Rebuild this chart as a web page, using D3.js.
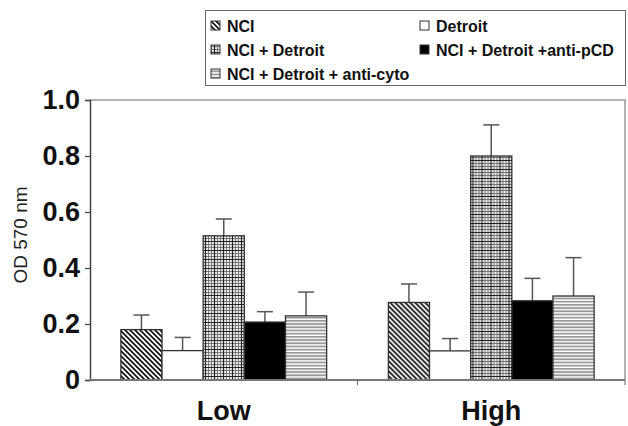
<!DOCTYPE html>
<html lang="en">
<head>
<meta charset="UTF-8">
<title>OD 570 nm</title>
<script src="https://d3js.org/d3.v7.min.js"></script>
<style>
  body { margin: 0; background: #fff; }
  svg { display: block; font-family: "Liberation Sans", Arial, sans-serif; }
</style>
</head>
<body>
<svg id="chart" width="628" height="426"></svg>
<script>
const groups = ["Low", "High"];
const series = ["NCI", "Detroit", "NCI + Detroit", "NCI + Detroit +anti-pCD", "NCI + Detroit + anti-cyto"];
const lowMeans = [0.18, 0.105, 0.515, 0.207, 0.229];
const lowErr = [0.052, 0.047, 0.06, 0.037, 0.085];
const highMeans = [0.277, 0.104, 0.80, 0.283, 0.30];
const highErr = [0.066, 0.044, 0.111, 0.08, 0.137];
const yTicks = [0, 0.2, 0.4, 0.6, 0.8, 1.0];

const means = [lowMeans, highMeans];
const errs = [lowErr, highErr];
const fills = ["url(#diag)", "#fff", "url(#check)", "#000", "url(#hstripe)"];

const svg = d3.select("#chart");
const mLeft = 90, mRight = 625, mTop = 100, mBottom = 380;
const FONT = "'Liberation Sans', Arial, sans-serif";

// patterns
const defs = svg.append("defs");
const diag = defs.append("pattern").attr("id", "diag")
  .attr("patternUnits", "userSpaceOnUse").attr("width", 5).attr("height", 5);
diag.append("rect").attr("width", 5).attr("height", 5).attr("fill", "#fff");
diag.append("path").attr("d", "M-1,-1 L6,6 M-1,4 L1,6 M4,-1 L6,1")
  .attr("stroke", "#111").attr("stroke-width", 1.7);

const check = defs.append("pattern").attr("id", "check")
  .attr("patternUnits", "userSpaceOnUse").attr("width", 9).attr("height", 9);
check.append("rect").attr("width", 9).attr("height", 9).attr("fill", "#eee");
check.append("path").attr("d", "M0,1.5 H9 M0,4.5 H9 M1.5,0 V9 M4.5,0 V9")
  .attr("stroke", "#777").attr("stroke-width", 1);
check.append("path").attr("d", "M0,7.5 H9 M7.5,0 V9")
  .attr("stroke", "#222").attr("stroke-width", 1.2);

const hs = defs.append("pattern").attr("id", "hstripe")
  .attr("patternUnits", "userSpaceOnUse").attr("width", 4).attr("height", 3.2);
hs.append("rect").attr("width", 4).attr("height", 3.2).attr("fill", "#fff");
hs.append("rect").attr("y", 0).attr("width", 4).attr("height", 1.8).attr("fill", "#999");

const x0 = d3.scaleBand().domain(groups).range([mLeft, mRight]).padding(0);
const x1 = d3.scaleBand().domain(series).range([0, x0.bandwidth()]).paddingInner(0).paddingOuter(0.75);
const y = d3.scaleLinear().domain([0, 1]).range([mBottom, mTop]);

// plot frame (top, right)
svg.append("path")
  .attr("d", `M${mLeft},${mTop} H${mRight} V${mBottom}`)
  .attr("fill", "none").attr("stroke", "#999").attr("stroke-width", 1.5);

// bars
groups.forEach((g, gi) => {
  const gg = svg.append("g").attr("transform", `translate(${x0(g)},0)`);
  series.forEach((s, si) => {
    const v = means[gi][si], e = errs[gi][si];
    const cx = x1(s) + x1.bandwidth() / 2;
    gg.append("line")
      .attr("x1", cx).attr("x2", cx).attr("y1", y(v)).attr("y2", y(v + e))
      .attr("stroke", "#555").attr("stroke-width", 1.5);
    gg.append("line")
      .attr("x1", cx - 8).attr("x2", cx + 8).attr("y1", y(v + e)).attr("y2", y(v + e))
      .attr("stroke", "#555").attr("stroke-width", 1.5);
    gg.append("rect")
      .attr("x", x1(s)).attr("y", y(v))
      .attr("width", x1.bandwidth()).attr("height", y(0) - y(v))
      .attr("fill", fills[si]).attr("stroke", "#333").attr("stroke-width", 1.3);
  });
});

// y axis
const yAxis = svg.append("g").attr("transform", `translate(${mLeft},0)`)
  .call(d3.axisLeft(y).tickValues(yTicks).tickSize(5).tickPadding(5)
    .tickFormat(d => d === 0 ? "0" : d3.format(".1f")(d)));
yAxis.attr("font-family", FONT);
yAxis.select(".domain").attr("stroke", "#444").attr("stroke-width", 1.5);
yAxis.selectAll(".tick line").attr("stroke", "#444").attr("stroke-width", 1.2);
yAxis.selectAll(".tick text")
  .attr("font-size", 27).attr("font-weight", "bold").attr("fill", "#111");

// x axis
const xAxis = svg.append("g").attr("transform", `translate(0,${mBottom})`);
xAxis.append("line").attr("x1", mLeft).attr("x2", mRight)
  .attr("stroke", "#777").attr("stroke-width", 2);
[x0("High"), mRight].forEach(xx => {
  xAxis.append("line").attr("x1", xx).attr("x2", xx).attr("y1", 0).attr("y2", 5)
    .attr("stroke", "#777").attr("stroke-width", 1.2);
});
xAxis.selectAll("text.cat").data(groups).enter().append("text")
  .attr("class", "cat")
  .attr("x", d => x0(d) + x1("NCI + Detroit") + x1.bandwidth() / 2)
  .attr("y", 40)
  .attr("text-anchor", "middle")
  .attr("font-size", 27).attr("font-weight", "bold").attr("fill", "#111")
  .text(d => d);

// y label
svg.append("text")
  .attr("transform", `translate(27,${(mTop + mBottom) / 2 - 5}) rotate(-90)`)
  .attr("text-anchor", "middle")
  .attr("font-size", 19).attr("fill", "#222")
  .text("OD 570 nm");

// legend
const lg = svg.append("g");
lg.append("rect").attr("x", 205.5).attr("y", 10.5).attr("width", 420).attr("height", 75)
  .attr("fill", "#fff").attr("stroke", "#666").attr("stroke-width", 1);
const legendPos = [[211, 26], [420, 26], [211, 50], [420, 50], [211, 74]];
series.forEach((s, i) => {
  const [lx, ly] = legendPos[i];
  lg.append("rect").attr("x", lx).attr("y", ly - 5).attr("width", 9).attr("height", 9)
    .attr("fill", fills[i]).attr("stroke", "#333").attr("stroke-width", 1);
  lg.append("text").attr("x", lx + 16).attr("y", ly + 6)
    .attr("font-size", 16).attr("font-weight", "bold").attr("fill", "#111")
    .text(s);
});
</script>
</body>
</html>
